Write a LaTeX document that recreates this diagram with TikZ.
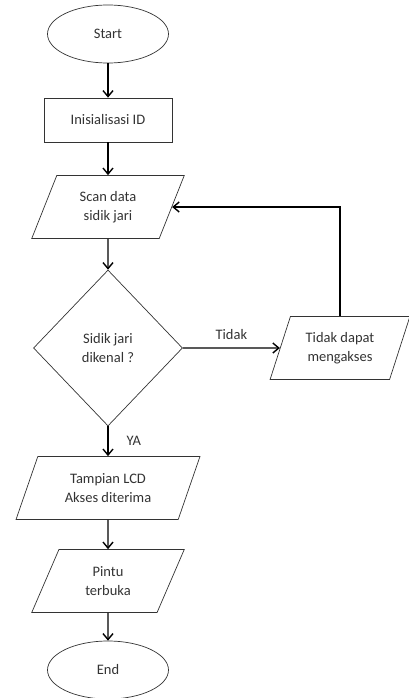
\documentclass[tikz,border=0pt]{standalone}
\usepackage{fontspec}
\setmainfont{Carlito}
\usetikzlibrary{shapes.geometric,arrows.meta,positioning}
\tikzset{
term/.style  = {draw=black!80, line width=0.7pt, ellipse, minimum width=121pt, minimum height=58pt},
proc/.style  = {draw=black!80, line width=0.7pt, rectangle, minimum width=128pt, minimum height=44pt},
io/.style    = {draw=black!80, line width=0.7pt, trapezium, trapezium left angle=68, trapezium right angle=112,
                trapezium stretches=true, minimum width=153pt, minimum height=63pt, align=center},
cond/.style  = {draw=black!80, line width=0.7pt, diamond, minimum width=149pt, minimum height=156pt,
                inner sep=0pt, align=center},
flow/.style  = {->, line width=1.4pt}
}
\begin{document}
\begin{tikzpicture}[auto, node distance=86pt, >={Straight Barb[length=6pt,width=10pt]},
  font=\fontsize{14.5}{19}\selectfont, text=black!80]
  \useasboundingbox (-108pt,34pt) rectangle (301pt,-664pt);
  \node [term]                                          (start)  {Start};
  \node [proc, below of=start]                          (init)   {Inisialisasi ID};
  \node [io, below of=init, node distance=87pt]         (scan)   {Scan data\\sidik jari};
  \node [cond, below of=scan, node distance=141pt]      (cek)    {Sidik jari\\dikenal ?};
  \node [io, right of=cek, node distance=232pt, minimum width=140pt] (gagal) {Tidak dapat\\mengakses};
  \node [io, below of=cek, node distance=140pt, minimum width=184pt] (lcd)   {Tampian LCD\\Akses diterima};
  \node [io, below of=lcd, node distance=93pt]          (pintu)  {Pintu\\terbuka};
  \node [term, below of=pintu, node distance=89pt]      (end)    {End};

  \draw [flow] (start) -- (init);
  \draw [flow] (init) -- (scan);
  \draw [flow] (scan) -- (cek);
  \draw [flow] (cek) -- node [inner sep=8pt] {Tidak} (gagal);
  \draw [flow] (gagal.north) |- (scan.east);
  \draw [flow] (cek) -- node [inner sep=18pt] {YA} (lcd);
  \draw [flow] (lcd) -- (pintu);
  \draw [flow] (pintu) -- (end);
\end{tikzpicture}
\end{document}
